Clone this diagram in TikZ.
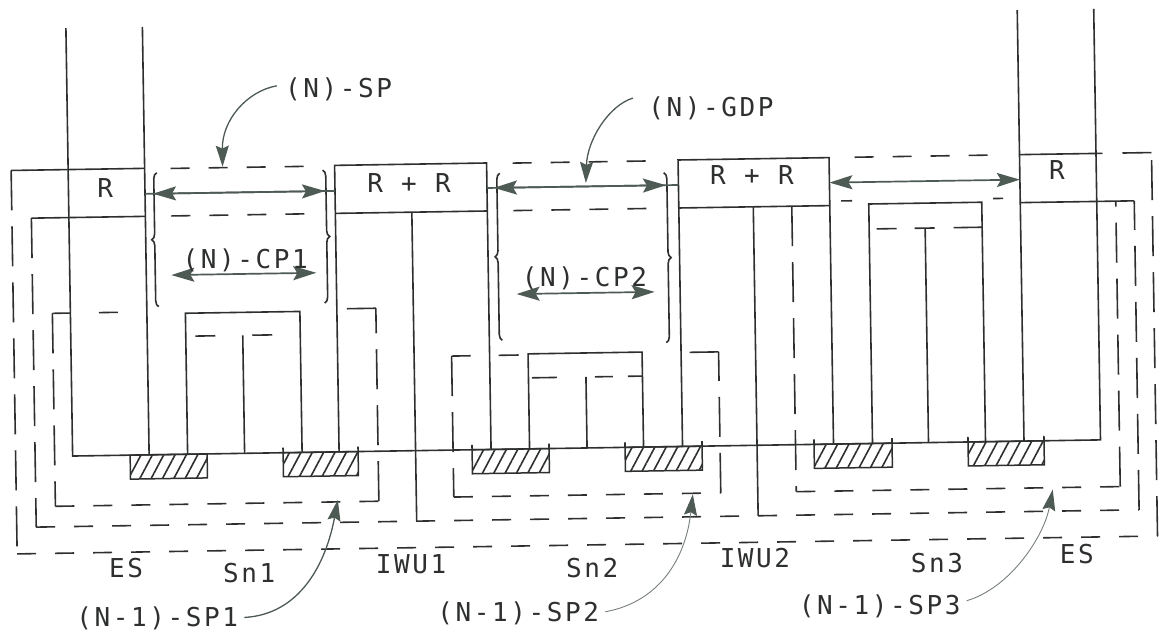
\documentclass[tikz,border=0pt]{standalone}
\usepackage{fontspec}
\newfontfamily\plotfont[LetterSpace=10]{DejaVu Sans Mono}
\usetikzlibrary{arrows.meta,decorations.pathreplacing,patterns.meta,calc}
\definecolor{ink}{RGB}{45,48,46}
\definecolor{arr}{RGB}{78,90,84}
\definecolor{faint}{RGB}{120,128,124}
\begin{document}
\begin{tikzpicture}[x=1pt,y=-1pt,
  ln/.style={draw=ink,line width=1.6pt},
  hd/.style={ln,dash pattern=on 19pt off 19pt},
  vd/.style={ln,dash pattern=on 40pt off 16pt},
  arline/.style={draw=arr,line width=1.7pt},
  dbl/.style={draw=arr,line width=1.7pt,{Stealth[length=23pt,width=14pt,inset=4pt]}-{Stealth[length=23pt,width=14pt,inset=4pt]}},
  lead/.style={draw=arr,line width=1.3pt,-{Stealth[length=21pt,width=13pt,inset=3pt]}},
  leadf/.style={draw=faint,line width=0.9pt,-{Stealth[length=21pt,width=13pt,inset=3pt,color=arr]}},
  txt/.style={font=\plotfont\fontsize{26}{30}\selectfont,text=ink,inner sep=0pt},
  hatch/.style={ln,line width=1.5pt,pattern={Lines[angle=62,distance=10pt,line width=1.6pt]},pattern color=ink},
  bracestyle/.style={draw=ink,line width=1.6pt,decorate,decoration={brace,amplitude=6pt}},
]
\fill[white] (0,0) rectangle (1167,635);
\useasboundingbox (0,0) rectangle (1167,635);
\begin{scope}[rotate around={0.9:(583,317)}]
% ---------- end systems and baseline
\draw[ln] (70.5,20) -- (70.5,448) -- (1098.5,448) -- (1098.5,17);
\draw[ln] (147,20) -- (147,448);
\draw[ln] (1022,17) -- (1022,448);
% ---------- outer loop
\draw[ln] (147,161.5) -- (13.5,161.5);
\draw[vd] (13.5,161.5) -- (13.5,545);
\draw[hd] (13.5,545) -- (1154,545);
\draw[vd] (1154,545) -- (1154,161.5);
\draw[ln] (1154,161.5) -- (1125,161.5);
\draw[ln] (1022,161.5) -- (1105,161.5);
% ---------- middle loop
\draw[ln] (147,209.5) -- (33,209.5);
\draw[vd] (33,209.5) -- (33,518.5);
\draw[hd] (33,518.5) -- (1136,518.5);
\draw[vd] (1136,518.5) -- (1136,209.5);
\draw[ln] (1136,209.5) -- (1022,209.5);
% ---------- SP1 loop
\draw[ln] (70.5,305) -- (52.5,305);
\draw[ln] (99,305) -- (118,305);
\draw[vd] (52.5,305) -- (52.5,498);
\draw[hd] (52.5,498) -- (376,498);
\draw[vd] (376,498) -- (376,305);
\draw[ln] (376,305) -- (347,305);
% ---------- SP2 loop
\draw[ln] (470,354) -- (451,354);
\draw[ln] (498,354) -- (518,354);
\draw[vd] (451,354) -- (451,495);
\draw[hd] (451,495) -- (718,495);
\draw[vd] (718,495) -- (718,354);
\draw[ln] (718,354) -- (689,354);
% ---------- SP3 loop
\draw[vd] (793.5,209.5) -- (793.5,495);
\draw[hd] (793.5,495) -- (1117.5,495);
\draw[vd] (1117.5,495) -- (1117.5,209.5);
% ---------- IWU1, IWU2
\draw[ln] (337,448) -- (337,161.5) -- (489,161.5) -- (489,448);
\draw[ln] (337,209.5) -- (489,209.5);
\draw[ln] (413.5,209.5) -- (413.5,518.5);
\draw[ln] (680.5,448) -- (680.5,161.5) -- (831.5,161.5) -- (831.5,448);
\draw[ln] (680.5,209.5) -- (831.5,209.5);
\draw[ln] (755,209.5) -- (755,518.5);
% ---------- subnetworks
\draw[ln] (185.5,448) -- (185.5,307) -- (300,307) -- (300,448);
\draw[ln] (195,330) -- (215,330) (252,330) -- (272,330);
\draw[ln] (242.5,330) -- (242.5,448);
\draw[ln] (527.5,448) -- (527.5,353) -- (641.5,353) -- (641.5,448);
\draw[ln] (531,377) -- (556,377) (594,377) -- (612,377) (627,377) -- (641.5,377);
\draw[ln] (585,377) -- (585,448);
\draw[ln] (870.5,448) -- (870.5,208.5) -- (983.5,208.5) -- (983.5,448);
\draw[ln] (878,233.5) -- (898,233.5) (916,233.5) -- (936,233.5) (955,233.5) -- (983.5,233.5);
\draw[ln] (926.5,233.5) -- (926.5,448);
% ---------- (N) service band dashes
\draw[hd] (173,162) -- (308,162);
\draw[hd] (173,209.5) -- (308,209.5);
\draw[hd] (515,162) -- (650,162);
\draw[hd] (515,209.5) -- (650,209.5);
\draw[hd] (857,161.5) -- (992,161.5);
\draw[ln] (843,205) -- (854,205) (995,205) -- (1005,205);
% ---------- physical media
\foreach \a/\b in {128/205,281/356,470/547,623/700,812/890,966/1042}
  \draw[hatch] (\a,448) rectangle (\b,472);
\foreach \a in {281,356,470,547,623,700,812,890,966,1042}
  \draw[ln] (\a,443) -- (\a,448);
% ---------- braces
\draw[bracestyle] (159,300) -- (159,166);
\draw[bracestyle] (325,166) -- (325,299);
\draw[bracestyle] (502,339) -- (502,172);
\draw[bracestyle] (666,174) -- (666,344);
% ---------- arrows
\draw[arline] (147,187) -- (337,187);
\draw[dbl] (155,187) -- (327,187);
\draw[arline] (489,186.5) -- (680.5,186.5);
\draw[dbl] (496,186.5) -- (668,186.5);
\draw[dbl] (831.5,186.5) -- (1022,186.5);
\draw[dbl] (172,268.6) -- (317,268.6);
\draw[dbl] (517,293) -- (655,293);
% ---------- labels
\node[txt,anchor=base] (rL) at (107,190.5) {R};
\node[txt,anchor=base] (rr1) at (411,189.3) {R + R};
\node[txt,anchor=base] (rr2) at (754,187.6) {R + R};
\node[txt,anchor=base] (rR) at (1059,187.4) {R};
\node[txt,anchor=base] (lSP) at (342,94) {(N)-SP};
\node[txt,anchor=base] (lGDP) at (714,119) {(N)-GDP};
\node[txt,anchor=base] (lCP1) at (246,262.7) {(N)-CP1};
\node[txt,anchor=base] (lCP2) at (585,287) {(N)-CP2};
\node[txt,anchor=base] (esL) at (122,570.6) {ES};
\node[txt,anchor=base] (sn1) at (245,577.6) {Sn1};
\node[txt,anchor=base] (iwu1) at (407,570.5) {IWU1};
\node[txt,anchor=base] (sn2) at (588,578) {Sn2};
\node[txt,anchor=base] (iwu2) at (751,570.2) {IWU2};
\node[txt,anchor=base] (sn3) at (933,578) {Sn3};
\node[txt,anchor=base] (esR) at (1073,570.8) {ES};
\node[txt,anchor=base] (sp1) at (152.5,620) {(N-1)-SP1};
\node[txt,anchor=base] (sp2) at (513.5,620) {(N-1)-SP2};
\node[txt,anchor=base] (sp3) at (875,619.6) {(N-1)-SP3};
% ---------- leaders
\coordinate (tSP) at (225,161);
\coordinate (tGDP) at (588,183);
\coordinate (tSP1) at (335,496);
\coordinate (tSP2) at (690,496);
\coordinate (tSP3) at (1050,497);
\draw[lead] ($(lSP.west)+(-8,-4)$) .. controls (250,86) and (225,115) .. (tSP);
\draw[lead] ($(lGDP.west)+(-15,-11)$) .. controls (612,106) and (590,140) .. (tGDP);
\draw[lead] ($(sp1.east)+(6,-1)$) .. controls (295,610) and (322,560) .. (tSP1);
\draw[leadf] ($(sp2.east)+(6,-1)$) .. controls (655,603) and (682,560) .. (tSP2);
\draw[leadf] ($(sp3.east)+(6,-6)$) .. controls (1005,595) and (1040,545) .. (tSP3);
\end{scope}
\end{tikzpicture}
\end{document}
